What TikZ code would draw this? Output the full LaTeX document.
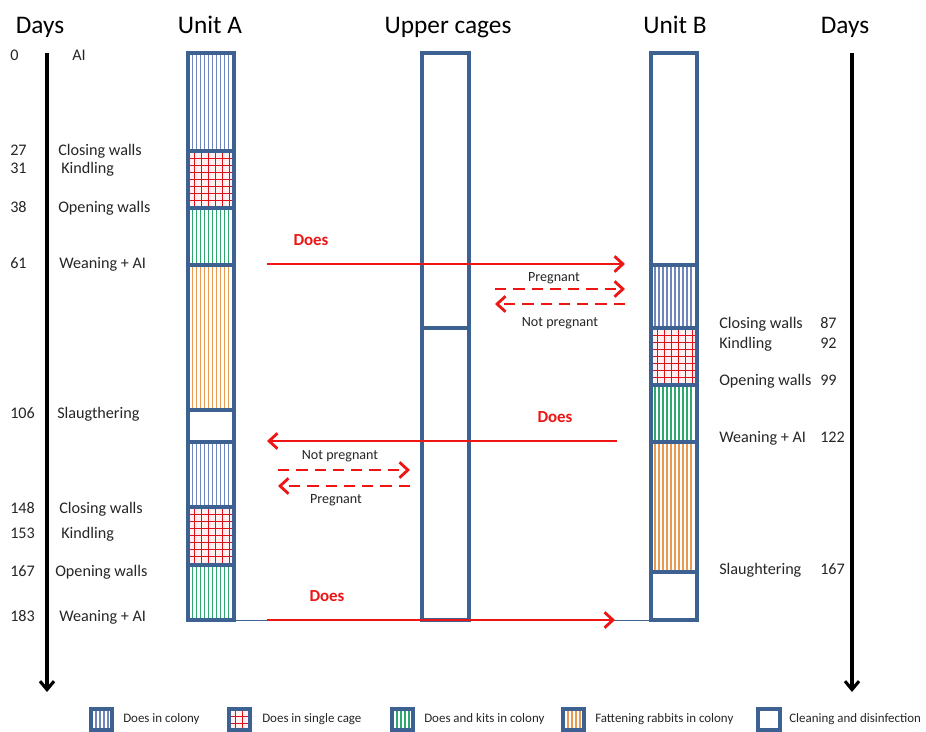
\documentclass[tikz,border=0pt]{standalone}
\usepackage{fontspec}
\setmainfont{Carlito}
\usetikzlibrary{arrows.meta}
\definecolor{cageColor}{HTML}{3D6190}
\definecolor{colonyLine}{HTML}{6F86BC}
\definecolor{gridLine}{HTML}{E0101A}
\definecolor{gridFill}{HTML}{FFF0F2}
\definecolor{kitsLine}{HTML}{2FA870}
\definecolor{fatLine}{HTML}{E89A50}
\definecolor{moveColor}{HTML}{EE1515}
\tikzset{
  cage/.style={draw=cageColor, line width=2.5pt},
  move/.style={moveColor, line width=2.1pt, -{Straight Barb[length=6pt,width=11pt,line width=2pt]}},
  movedash/.style={move, dash pattern=on 8pt off 5pt},
  timeaxis/.style={black, line width=2.3pt, -{Straight Barb[length=6pt,width=10pt,line width=2.2pt]}},
  head/.style={font=\fontsize{18}{20}\selectfont, anchor=base, inner sep=0pt},
  lbl/.style={font=\fontsize{11.5}{13}\selectfont, anchor=base west, inner sep=0pt, text=black!85},
  movelbl/.style={font=\fontsize{10}{12}\selectfont, inner sep=0pt, text=black!85},
  doeslbl/.style={font=\fontsize{12}{14}\selectfont\bfseries, inner sep=0pt, text=moveColor},
  keylbl/.style={font=\fontsize{9.2}{11}\selectfont, anchor=base west, inner sep=0pt, text=black!85}
}
% vertical stripes: left, top, bottom, count, colour
\newcommand{\stripes}[5]{%
  \foreach \k in {1,...,#4}
    \draw[#5, line width=0.75pt] ({#1+0.5+4*\k},#2) -- ({#1+0.5+4*\k},#3);}
% red grid: left, top, bottom, right, nx, ny
\newcommand{\checks}[6]{%
  \fill[gridFill] (#1,#2) rectangle (#4,#3);
  \foreach \k in {1,...,#5}
    \draw[gridLine, line width=0.75pt] ({#1+7*\k-0.5},#2) -- ({#1+7*\k-0.5},#3);
  \foreach \k in {1,...,#6}
    \draw[gridLine, line width=0.75pt] (#1,{#2+7*\k+0.5}) -- (#4,{#2+7*\k+0.5});}
\begin{document}
\begin{tikzpicture}[x=0.025cm, y=-0.025cm]
\useasboundingbox[fill=white] (0,0) rectangle (926,731);

% headings
\node[head] (daysA) at (40,33) {Days};
\node[head] (unitA) at (210,33) {Unit A};
\node[head] (upper) at (448,33) {Upper cages};
\node[head] (unitB) at (675,33) {Unit B};
\node[head] (daysB) at (845,33) {Days};

% time axes
\coordinate (axisAtop) at (47,53);
\coordinate (axisAend) at (47,692);
\coordinate (axisBtop) at (852,53);
\coordinate (axisBend) at (852,692);
\draw[timeaxis] (axisAtop) -- (axisAend);
\draw[timeaxis] (axisBtop) -- (axisBend);

% unit A
\stripes{188}{53}{151}{10}{colonyLine}
\checks{188}{151}{208}{234}{6}{7}
\stripes{188}{208}{265}{10}{kitsLine}
\stripes{188}{265}{410}{10}{fatLine}
\stripes{188}{442}{507}{10}{colonyLine}
\checks{188}{507}{565}{234}{6}{7}
\stripes{188}{565}{620}{10}{kitsLine}
\draw[cage] (188,53) rectangle (234,620);
\foreach \y in {151,208,265,410,442,507,565}
  \draw[cage] (188,\y) -- (234,\y);

% upper cages
\draw[cage] (422,53) rectangle (469,620);
\draw[cage] (422,328) -- (469,328);

% unit B
\stripes{650.5}{265}{328}{10}{colonyLine}
\checks{651}{328}{385}{697}{6}{7}
\stripes{650.5}{385}{442}{10}{kitsLine}
\stripes{650.5}{442}{572}{10}{fatLine}
\draw[cage] (651,53) rectangle (697,620);
\foreach \y in {265,328,385,442,572}
  \draw[cage] (651,\y) -- (697,\y);

% left time line labels
\node[lbl] (d0) at (10,60) {0};
\node[lbl] (ai0) at (72,60) {AI};
\node[lbl] (d27) at (10,155) {27};
\node[lbl] (cw27) at (58,155) {Closing walls};
\node[lbl] (d31) at (10,173) {31};
\node[lbl] (kd31) at (61,173) {Kindling};
\node[lbl] (d38) at (10,212) {38};
\node[lbl] (ow38) at (58,212) {Opening walls};
\node[lbl] (d61) at (10,268) {61};
\node[lbl] (wn61) at (59,268) {Weaning + AI};
\node[lbl] (d106) at (10,418) {106};
\node[lbl] (sl106) at (57,418) {Slaugthering};
\node[lbl] (d148) at (10,513) {148};
\node[lbl] (cw148) at (59,513) {Closing walls};
\node[lbl] (d153) at (10,538) {153};
\node[lbl] (kd153) at (61,538) {Kindling};
\node[lbl] (d167) at (10,576) {167};
\node[lbl] (ow167) at (55,576) {Opening walls};
\node[lbl] (d183) at (10,621) {183};
\node[lbl] (wn183) at (59,621) {Weaning + AI};

% right time line labels
\node[lbl] (cw87) at (719,328) {Closing walls};
\node[lbl] (d87) at (820,328) {87};
\node[lbl] (kd92) at (719,348) {Kindling};
\node[lbl] (d92) at (820,348) {92};
\node[lbl] (ow99) at (719,385) {Opening walls};
\node[lbl] (d99) at (820,385) {99};
\node[lbl] (wn122) at (719,442) {Weaning + AI};
\node[lbl] (d122) at (820,442) {122};
\node[lbl] (sl167) at (719,574) {Slaughtering};
\node[lbl] (d167b) at (820,574) {167};

% moves A -> B
\coordinate (goA1) at (267,264);
\coordinate (goB1) at (625,264);
\draw[move] (goA1) -- (goB1);
\node[doeslbl] (does1) at (311,240) {Does};
\coordinate (pgB1) at (495,289);
\coordinate (pgB2) at (625,289);
\draw[movedash] (pgB1) -- (pgB2);
\node[movelbl] (preg1) at (554,278) {Pregnant};
\coordinate (npB1) at (625,304);
\coordinate (npB2) at (495,304);
\draw[movedash] (npB1) -- (npB2);
\node[movelbl] (npreg1) at (560,323) {Not pregnant};

% moves B -> A
\coordinate (goB2) at (617,441);
\coordinate (goA2) at (267,441);
\draw[move] (goB2) -- (goA2);
\node[doeslbl] (does2) at (555,417) {Does};
\coordinate (npA1) at (278,470);
\coordinate (npA2) at (410,470);
\draw[movedash] (npA1) -- (npA2);
\node[movelbl] (npreg2) at (340,456) {Not pregnant};
\coordinate (pgA1) at (410,486);
\coordinate (pgA2) at (278,486);
\draw[movedash] (pgA1) -- (pgA2);
\node[movelbl] (preg2) at (336,500) {Pregnant};

% last move
\draw[cageColor, line width=0.6pt] (234,620) -- (651,620);
\coordinate (goA3) at (267,620);
\coordinate (goB3) at (615,620);
\draw[move] (goA3) -- (goB3);
\node[doeslbl] (does3) at (327,596) {Does};

% legend
\stripes{91.5}{709}{730}{4}{colonyLine}
\draw[cage] (91,709) rectangle (112,730);
\node[keylbl] (key1) at (123,722) {Does in colony};
\checks{229}{709}{730}{250}{2}{2}
\draw[cage] (229,709) rectangle (250,730);
\node[keylbl] (key2) at (262,722) {Does in single cage};
\stripes{392.5}{709}{730}{4}{kitsLine}
\draw[cage] (392,709) rectangle (413,730);
\node[keylbl] (key3) at (424,722) {Does and kits in colony};
\stripes{563.5}{709}{730}{4}{fatLine}
\draw[cage] (563,709) rectangle (584,730);
\node[keylbl] (key4) at (595,722) {Fattening rabbits in colony};
\draw[cage] (758,709) rectangle (780,730);
\node[keylbl] (key5) at (789,722) {Cleaning and disinfection};
\end{tikzpicture}
\end{document}
